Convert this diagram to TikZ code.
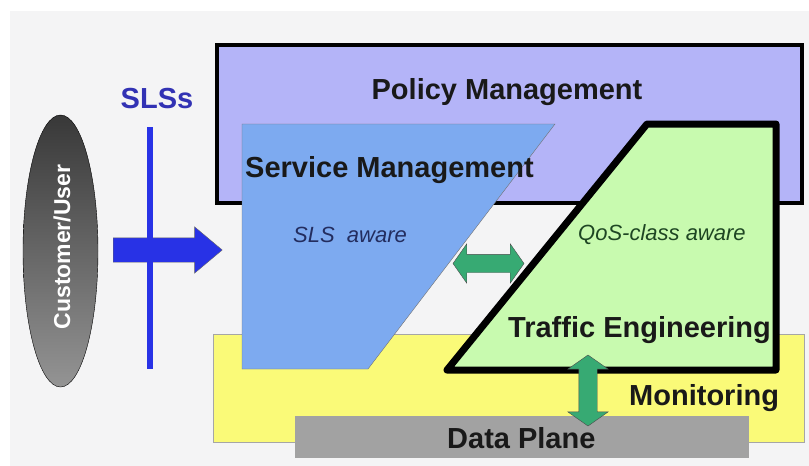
\documentclass[tikz,border=0pt]{standalone}
\usepackage{fontspec}
\setmainfont{Liberation Sans}
\usetikzlibrary{shapes.geometric, shapes.arrows, arrows.meta, positioning}
\definecolor{pagegray}{RGB}{244,244,245}
\definecolor{policyfill}{RGB}{180,180,248}
\definecolor{servicefill}{RGB}{125,170,240}
\definecolor{trafficfill}{RGB}{200,250,175}
\definecolor{monitorfill}{RGB}{250,250,120}
\definecolor{planefill}{RGB}{162,162,162}
\definecolor{linkgreen}{RGB}{55,170,115}
\definecolor{slsblue}{RGB}{40,50,230}
\definecolor{slstext}{RGB}{50,50,180}
\definecolor{awaretext}{RGB}{35,45,95}
\definecolor{qostext}{RGB}{30,70,35}
\tikzset{
    block/.style={rectangle, inner sep=0pt, outer sep=0pt},
    bigtext/.style={font=\fontsize{29}{33}\selectfont\bfseries, text=black!90, inner sep=0pt},
    smalltext/.style={font=\fontsize{22}{26}\selectfont\itshape, inner sep=0pt},
    link/.style={double arrow, draw=black!70, fill=linkgreen, thin, inner xsep=0pt, inner ysep=9pt, minimum height=71pt, double arrow head extend=10.5pt, double arrow tip angle=110}
}
\begin{document}
\begin{tikzpicture}[x=1pt, y=-1pt]
    \useasboundingbox (0,0) rectangle (809,466);
    \fill[pagegray] (10,11) rectangle (809,466);

    % layers
    \node (mon) [block, fill=monitorfill, draw=black!35, minimum width=591pt, minimum height=108pt] at (508.5,388.5) {};
    \node (pol) [block, fill=policyfill, draw=black, line width=4pt, minimum width=585pt, minimum height=158pt] at (509.5,124) {};
    \node (plane) [block, fill=planefill, minimum width=454pt, minimum height=42pt] at (522,437) {};

    \coordinate (svcnw) at (242,124);
    \coordinate (svcne) at (555,124);
    \coordinate (svcse) at (368,369);
    \coordinate (svcsw) at (242,369);
    \filldraw[fill=servicefill, draw=black!55, thin] (svcnw) -- (svcne) -- (svcse) -- (svcsw) -- cycle;

    \coordinate (tenw) at (647,124);
    \coordinate (tene) at (776,124);
    \coordinate (tese) at (776,370);
    \coordinate (tesw) at (447,370);
    \filldraw[fill=trafficfill, draw=black, line width=7pt, line join=round] (tenw) -- (tene) -- (tese) -- (tesw) -- cycle;

    % labels
    \node (poltitle) [bigtext, anchor=base] at (507,99) {Policy Management};
    \node (svctitle) [bigtext, anchor=base west] at (245,177) {Service Management};
    \node (svcnote) [smalltext, text=awaretext, anchor=base west] at (293,242) {SLS\ \ aware};
    \node (tenote) [smalltext, text=qostext, anchor=base west] at (578,240) {QoS-class aware};
    \node (tetitle) [bigtext, anchor=base west] at (508,337) {Traffic Engineering};
    \node (montitle) [bigtext, anchor=base west] at (629,405) {Monitoring};
    \node (planetitle) [bigtext, anchor=base west] at (447,448) {Data Plane};

    % green links
    \node (svclink) [link] at (488.5,263.5) {};
    \node (planelink) [link, rotate=90, double arrow head extend=11pt] at (588,390.5) {};

    % customer side
    \node (user) [ellipse, draw=black, thin, top color=black!78, bottom color=black!42, minimum width=75pt, minimum height=272pt, inner sep=0pt] at (60.5,251) {};
    \node (usertext) [font=\fontsize{23}{26}\selectfont\bfseries, text=white, rotate=90, inner sep=0pt] at (62,247) {Customer/User};
    \node (userarrow) [single arrow, fill=slsblue, draw=black!60, thin, minimum height=109pt, inner xsep=0pt, inner ysep=12pt, single arrow head extend=11pt, single arrow tip angle=80, anchor=tail] at (113,250) {};

    \coordinate (slstop) at (150,127);
    \coordinate (slsbot) at (150,369);
    \draw[slsblue, line width=6pt] (slstop) -- (slsbot);
    \node (slslabel) [bigtext, text=slstext, anchor=base] at (157,108) {SLSs};
\end{tikzpicture}
\end{document}
